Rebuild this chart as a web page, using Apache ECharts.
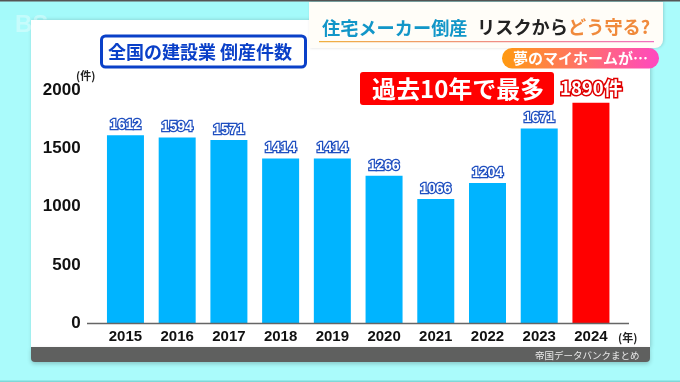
<!DOCTYPE html>
<html>
<head>
<meta charset="utf-8">
<style>
html, body { margin: 0; padding: 0; background: #aafbfb; }
#container { width: 680px; height: 382px; }
</style>
<script src="https://cdn.jsdelivr.net/npm/echarts@6/dist/echarts.min.js"></script>
</head>
<body>
<div id="container"></div>
<script>
const years = ['2015', '2016', '2017', '2018', '2019', '2020', '2021', '2022', '2023', '2024'];
const counts = [1612, 1594, 1571, 1414, 1414, 1266, 1066, 1204, 1671, 1890];
const yTicks = [0, 500, 1000, 1500, 2000];

const fontJP = '"Noto Sans CJK JP", sans-serif';
const fontNum = '"Liberation Sans", Arial, sans-serif';
const blue = '#00b4ff';
const red = '#ff0000';

let dom = document.getElementById('container');
let myChart = echarts.init(dom);

function label(text, x, y, size, color, extra) {
    return {
        type: 'text',
        x: x,
        y: y,
        z: 20,
        silent: true,
        style: Object.assign({
            text: text,
            fontFamily: fontJP,
            fontSize: size,
            fontWeight: 'bold',
            fill: color,
            textVerticalAlign: 'middle'
        }, extra || {})
    };
}

let option = {
    animation: false,
    backgroundColor: '#aafbfb',
    grid: { left: 99.6, right: 63.2, top: 90, bottom: 58.5 },
    xAxis: {
        type: 'category',
        data: years,
        axisLine: { show: false },
        axisTick: { show: false },
        axisLabel: { color: '#111', fontFamily: fontNum, fontSize: 15, fontWeight: 'bold', margin: 6 }
    },
    yAxis: {
        type: 'value',
        min: 0,
        max: 2000,
        interval: 500,
        splitLine: { show: false },
        axisLine: { show: false },
        axisTick: { show: false },
        axisLabel: {
            color: '#111',
            fontFamily: fontNum,
            fontSize: 17,
            fontWeight: 'bold',
            margin: 19,
            customValues: yTicks,
            formatter: function (v) { return String(v); }
        }
    },
    series: [{
        type: 'bar',
        z: 10,
        barWidth: 37,
        data: counts.map(function (v, i) {
            return { value: v, itemStyle: { color: i === counts.length - 1 ? red : blue } };
        }),
        label: {
            show: true,
            position: 'top',
            distance: 3,
            fontFamily: fontNum,
            fontSize: 14,
            fontWeight: 'bold',
            color: '#ffffff',
            textBorderColor: '#1f4fc0',
            textBorderWidth: 2.5,
            formatter: function (p) {
                return p.dataIndex === counts.length - 1 ? '' : String(p.value);
            }
        }
    }],
    graphic: [
        // page panels
        { type: 'rect', z: -10, silent: true, shape: { x: 0, y: 0, width: 680, height: 1.5 }, style: { fill: '#555' } },
        { type: 'rect', z: -10, silent: true, shape: { x: 0, y: 380.5, width: 680, height: 1.5 }, style: { fill: '#7fd8d8' } },
        { type: 'rect', z: -9, silent: true, shape: { x: 0, y: 2, width: 309, height: 18 }, style: { fill: '#a4fafa' } },
        label('BS', 15, 25, 24, 'rgba(255,255,255,0.35)', { fontFamily: fontNum, z: -9 }),
        { type: 'rect', z: -8, silent: true, shape: { x: 31, y: 20, width: 619, height: 328 }, style: { fill: '#ffffff', shadowBlur: 4, shadowOffsetX: 1, shadowColor: 'rgba(0,0,0,0.2)' } },
        { type: 'rect', z: -7, silent: true, shape: { x: 309, y: 2, width: 354, height: 46, r: [0, 0, 8, 0] }, style: { fill: '#fffdf8', shadowBlur: 3, shadowOffsetX: 1, shadowColor: 'rgba(0,0,0,0.15)' } },
        { type: 'rect', z: -6, silent: true, shape: { x: 31, y: 347, width: 619, height: 15, r: [0, 0, 4, 4] }, style: { fill: '#5f605f', shadowBlur: 4, shadowColor: 'rgba(0,0,0,0.2)', shadowOffsetY: 2 } },
        // baseline
        { type: 'line', z: 15, silent: true, shape: { x1: 87, y1: 323.5, x2: 629, y2: 323.5 }, style: { stroke: '#666', lineWidth: 1.5 } },
        // header
        label('住宅メーカー倒産', 322, 28, 18.2, '#1296c8'),
        label('リスクから', 477, 27.5, 18.2, '#222'),
        label('どう守る?', 568, 27.5, 18.2, '#f08a3c'),
        { type: 'rect', z: 19, silent: true, shape: { x: 319, y: 41, width: 335, height: 1.2 }, style: { fill: new echarts.graphic.LinearGradient(0, 0, 1, 0, [{ offset: 0, color: '#f0b040' }, { offset: 1, color: '#f070c0' }]) } },
        // pill
        { type: 'rect', z: 19, silent: true, shape: { x: 502, y: 48, width: 157, height: 20.5, r: 10 }, style: { fill: new echarts.graphic.LinearGradient(0, 0, 1, 0, [{ offset: 0, color: '#ff9a10' }, { offset: 1, color: '#ff48c0' }]) } },
        label('夢のマイホームが…', 513, 58, 15, '#ffffff'),
        // title box
        { type: 'rect', z: 19, silent: true, shape: { x: 101.5, y: 36, width: 204, height: 31, r: 4 }, style: { fill: '#ffffff', stroke: '#0a40c8', lineWidth: 3 } },
        label('全国の建設業 倒産件数', 108, 52, 18, '#0a40c8'),
        // callout
        { type: 'rect', z: 19, silent: true, shape: { x: 360, y: 72, width: 194, height: 33, r: 3 }, style: { fill: red } },
        label('過去10年で最多', 372, 88.5, 24, '#ffffff'),
        label('1890件', 560, 88, 18.5, '#ffffff', { stroke: '#e00000', lineWidth: 3 }),
        // units
        label('(件)', 76, 76, 11, '#222'),
        label('(年)', 618, 337.5, 11, '#222'),
        label('帝国データバンクまとめ', 535, 355, 9.5, '#e8e8e8', { fontWeight: 'normal' })
    ]
};
myChart.setOption(option);
</script>
</body>
</html>
